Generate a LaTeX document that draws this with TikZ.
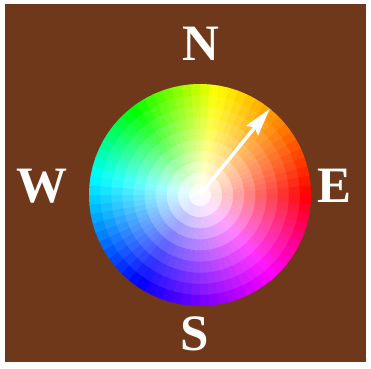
\documentclass[tikz,border=0pt]{standalone}
\usepackage{fontspec}
\setmainfont{Liberation Serif}
\usetikzlibrary{arrows.meta,calc}
\definecolor{bgbrown}{RGB}{112,56,26}
\newcommand\wheelhue[1]{%
  \ifdim#1pt<81pt \pgfmathsetmacro{\hh}{#1*60/81}%
  \else\ifdim#1pt<128pt \pgfmathsetmacro{\hh}{60+(#1-81)*60/47}%
  \else\ifdim#1pt<170pt \pgfmathsetmacro{\hh}{120+(#1-128)*60/42}%
  \else\ifdim#1pt<235pt \pgfmathsetmacro{\hh}{180+(#1-170)*60/65}%
  \else\ifdim#1pt<312pt \pgfmathsetmacro{\hh}{240+(#1-235)*60/77}%
  \else \pgfmathsetmacro{\hh}{300+(#1-312)*60/48}%
  \fi\fi\fi\fi\fi
  \pgfmathsetmacro{\hn}{\hh/360}}
\begin{document}
\begin{tikzpicture}[x=1pt,y=1pt,
  letter/.style={text=white,font=\fontsize{51}{51}\selectfont\bfseries,inner sep=0pt},
  pointer/.style={white,line width=3.5pt,-{Stealth[length=28pt,width=15pt,inset=4pt]}}]
\useasboundingbox (0,0) rectangle (371,368);
\fill[white] (0,0) rectangle (371,368);
\fill[bgbrown] (5,6) rectangle (366,364);
\coordinate (c) at (200,173);
\fill[white] (c) circle (110);
\foreach \i in {0,...,71}{
  \pgfmathsetmacro{\aa}{\i*5}
  \pgfmathsetmacro{\ab}{\i*5+5.4}
  \pgfmathsetmacro{\am}{\i*5+2.5}
  \wheelhue{\am}
  \foreach \j/\ss in {0/0.03,1/0.12,2/0.25,3/0.38,4/0.5,5/0.62,6/0.72,7/0.82,8/0.91,9/1.0}{
    \pgfmathsetmacro{\ri}{\j*11.1}
    \pgfmathsetmacro{\ro}{\j<9 ? (\j+1)*11.1+0.6 : 111}
    \definecolor{wc}{hsb}{\hn,\ss,1}
    \ifnum\j=0
      \fill[wc,shift={(c)}] (0,0) -- (\aa:\ro) arc[start angle=\aa,end angle=\ab,radius=\ro] -- cycle;
    \else
      \fill[wc,shift={(c)}] (\aa:\ri) arc[start angle=\aa,end angle=\ab,radius=\ri]
        -- (\ab:\ro) arc[start angle=\ab,end angle=\aa,radius=\ro] -- cycle;
    \fi
  }
}
\coordinate (tip) at ($(c)+(51:111)$);
\draw[pointer] (c) -- (tip);
\node[letter] (N) at (201,324) {N};
\node[letter] (W) at (42,182) {W};
\node[letter] (E) at (335,182) {E};
\node[letter] (S) at (195,34) {S};
\end{tikzpicture}
\end{document}
